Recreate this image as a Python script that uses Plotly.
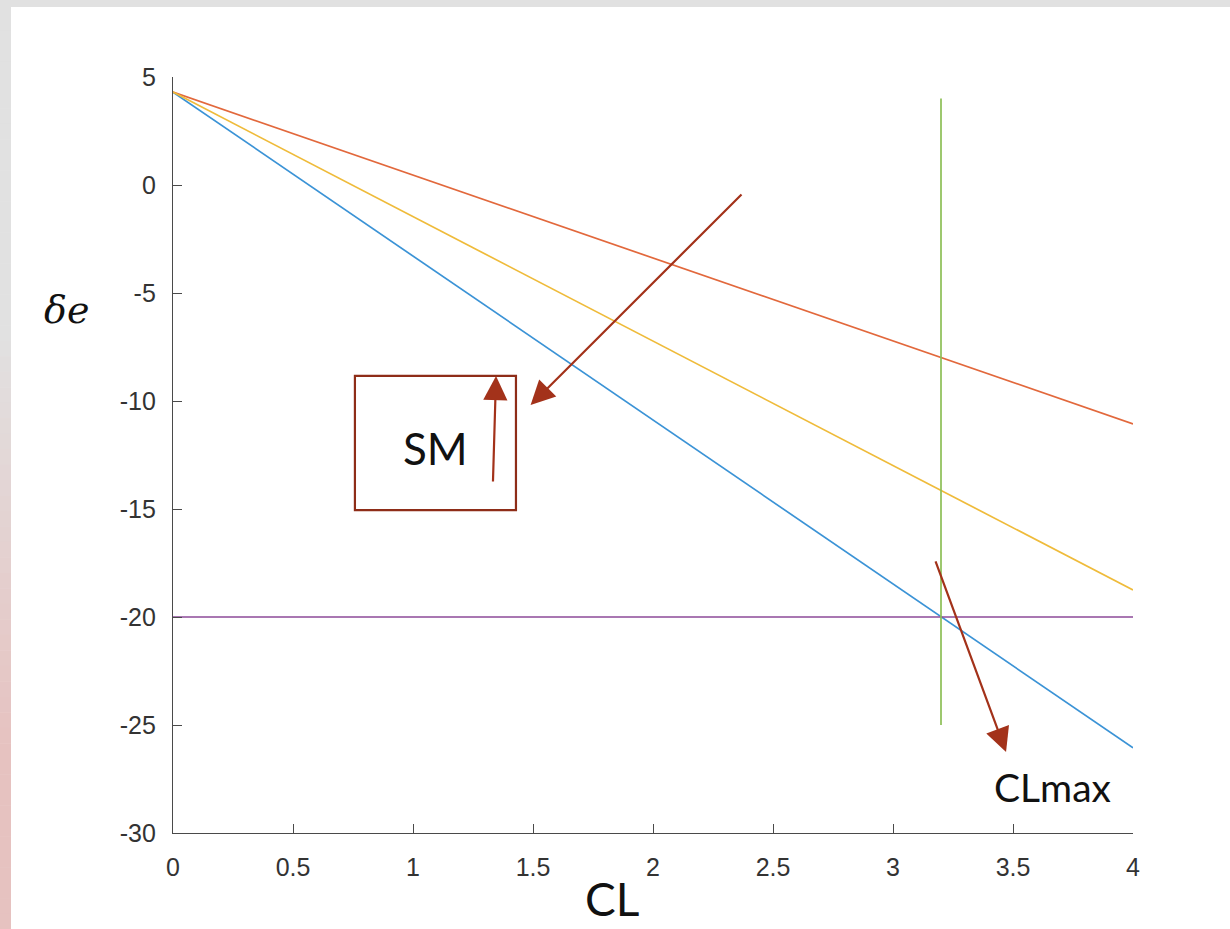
import plotly.graph_objects as go

# Elevator deflection vs. lift coefficient for three static margins
cl_vals = [0.0, 4.0]
de_sm_low = [4.3, -11.06]
de_sm_mid = [4.3, -18.75]
de_sm_high = [4.3, -26.06]

# Deflection limit and maximum lift coefficient
de_limit = -20.0
cl_limit_range = [0.0, 4.0]
cl_max = 3.2
cl_max_span = [-25.0, 4.0]

x_tickvals = [0, 0.5, 1, 1.5, 2, 2.5, 3, 3.5, 4]
x_ticktext = ["0", "0.5", "1", "1.5", "2", "2.5", "3", "3.5", "4"]
y_tickvals = [-30, -25, -20, -15, -10, -5, 0, 5]
y_ticktext = ["-30", "-25", "-20", "-15", "-10", "-5", "0", "5"]

W, H = 1230, 929
ML, MR, MT, MB = 173, 97, 77, 96
PW, PH = W - ML - MR, H - MT - MB

fig = go.Figure()
line_w = 1.7
fig.add_trace(go.Scatter(x=cl_vals, y=de_sm_high, mode="lines",
                         line=dict(color="#3b93d6", width=line_w)))
fig.add_trace(go.Scatter(x=cl_vals, y=de_sm_low, mode="lines",
                         line=dict(color="#e2683c", width=line_w)))
fig.add_trace(go.Scatter(x=cl_vals, y=de_sm_mid, mode="lines",
                         line=dict(color="#efbb3a", width=line_w)))
fig.add_trace(go.Scatter(x=cl_limit_range, y=[de_limit, de_limit], mode="lines",
                         line=dict(color="#8d4a99", width=line_w)))
fig.add_trace(go.Scatter(x=[cl_max, cl_max], y=cl_max_span, mode="lines",
                         line=dict(color="#8cbf55", width=line_w)))


def px_to_paper(px, py):
    return (px - ML) / PW, (H - MB - py) / PH


def hexmix(c1, c2, t):
    a = [int(c1[i:i + 2], 16) for i in (1, 3, 5)]
    b = [int(c2[i:i + 2], 16) for i in (1, 3, 5)]
    m = [round(a[k] + (b[k] - a[k]) * t) for k in range(3)]
    return "#%02x%02x%02x" % tuple(m)


shapes = []
# window frame: grey strip on top, grey-to-rose strip on the left
x0p, _ = px_to_paper(0, 0)
x1p, _ = px_to_paper(11, 0)
_, ytop = px_to_paper(0, 0)
_, ybot = px_to_paper(0, 7)
shapes.append(dict(type="rect", xref="paper", yref="paper", x0=x0p, x1=(W - ML) / PW,
                   y0=ybot, y1=ytop, fillcolor="#e1e1e1", line=dict(width=0)))
n_seg = 60
grey, rose = "#e1e1e1", "#e6c2c0"
for i in range(n_seg):
    py0 = i * H / n_seg
    py1 = (i + 1) * H / n_seg + 0.5
    mid = (py0 + py1) / 2
    t = min(max((mid - 330) / 420, 0), 1)
    _, ya = px_to_paper(0, py0)
    _, yb = px_to_paper(0, py1)
    shapes.append(dict(type="rect", xref="paper", yref="paper", x0=x0p, x1=x1p,
                       y0=yb, y1=ya, fillcolor=hexmix(grey, rose, t), line=dict(width=0)))

# box around the static-margin label
shapes.append(dict(type="rect", xref="x", yref="y", x0=0.758, x1=1.429, y0=-15.05, y1=-8.84,
                   line=dict(color="#8e2d18", width=2.2), fillcolor="rgba(0,0,0,0)"))

arrow_col = "#a3321a"
annotations = []
for (hx, hy, tx, ty) in [(1.49, -10.19, 2.375, -0.37),
                         (1.346, -8.84, 1.333, -13.8),
                         (3.471, -26.25, 3.175, -17.36)]:
    annotations.append(dict(x=hx, y=hy, ax=tx, ay=ty, xref="x", yref="y", axref="x", ayref="y",
                            text="", showarrow=True, arrowhead=2, arrowsize=2.2,
                            arrowwidth=2.2, arrowcolor=arrow_col, standoff=0, startstandoff=0))

annotations.append(dict(x=1.092, y=-12.18, xref="x", yref="y", text="SM", showarrow=False,
                        xanchor="center", yanchor="middle",
                        font=dict(family="Lato", size=44, color="#111111")))
annotations.append(dict(x=3.6625, y=-27.87, xref="x", yref="y", text="CLmax", showarrow=False,
                        xanchor="center", yanchor="middle",
                        font=dict(family="Lato", size=39, color="#111111")))
cx, cy = px_to_paper(612, 898)
annotations.append(dict(x=cx, y=cy, xref="paper", yref="paper", text="CL", showarrow=False,
                        xanchor="center", yanchor="middle",
                        font=dict(family="Lato", size=46, color="#111111")))
dx, dy = px_to_paper(66, 310)
annotations.append(dict(x=dx, y=dy, xref="paper", yref="paper", text="<i>δe</i>", showarrow=False,
                        xanchor="center", yanchor="middle",
                        font=dict(family="DejaVu Serif", size=38, color="#111111")))

axis_col = "#4a4a4a"
tick_font = dict(family="Liberation Sans", size=25, color="#333333")
fig.update_layout(
    width=W, height=H,
    margin=dict(l=ML, r=MR, t=MT, b=MB),
    paper_bgcolor="white", plot_bgcolor="white",
    showlegend=False,
    shapes=shapes,
    annotations=annotations,
    xaxis=dict(range=[0, 4], tickvals=x_tickvals, ticktext=x_ticktext,
               showgrid=False, zeroline=False, showline=True, linecolor=axis_col, linewidth=1.4,
               ticks="inside", ticklen=9, tickwidth=1.2, tickcolor=axis_col,
               tickfont=tick_font, ticklabelstandoff=12),
    yaxis=dict(range=[-30, 5], tickvals=y_tickvals, ticktext=y_ticktext,
               showgrid=False, zeroline=False, showline=True, linecolor=axis_col, linewidth=1.4,
               ticks="inside", ticklen=9, tickwidth=1.2, tickcolor=axis_col,
               tickfont=tick_font, ticklabelstandoff=11),
)

fig.write_html("out.html")
